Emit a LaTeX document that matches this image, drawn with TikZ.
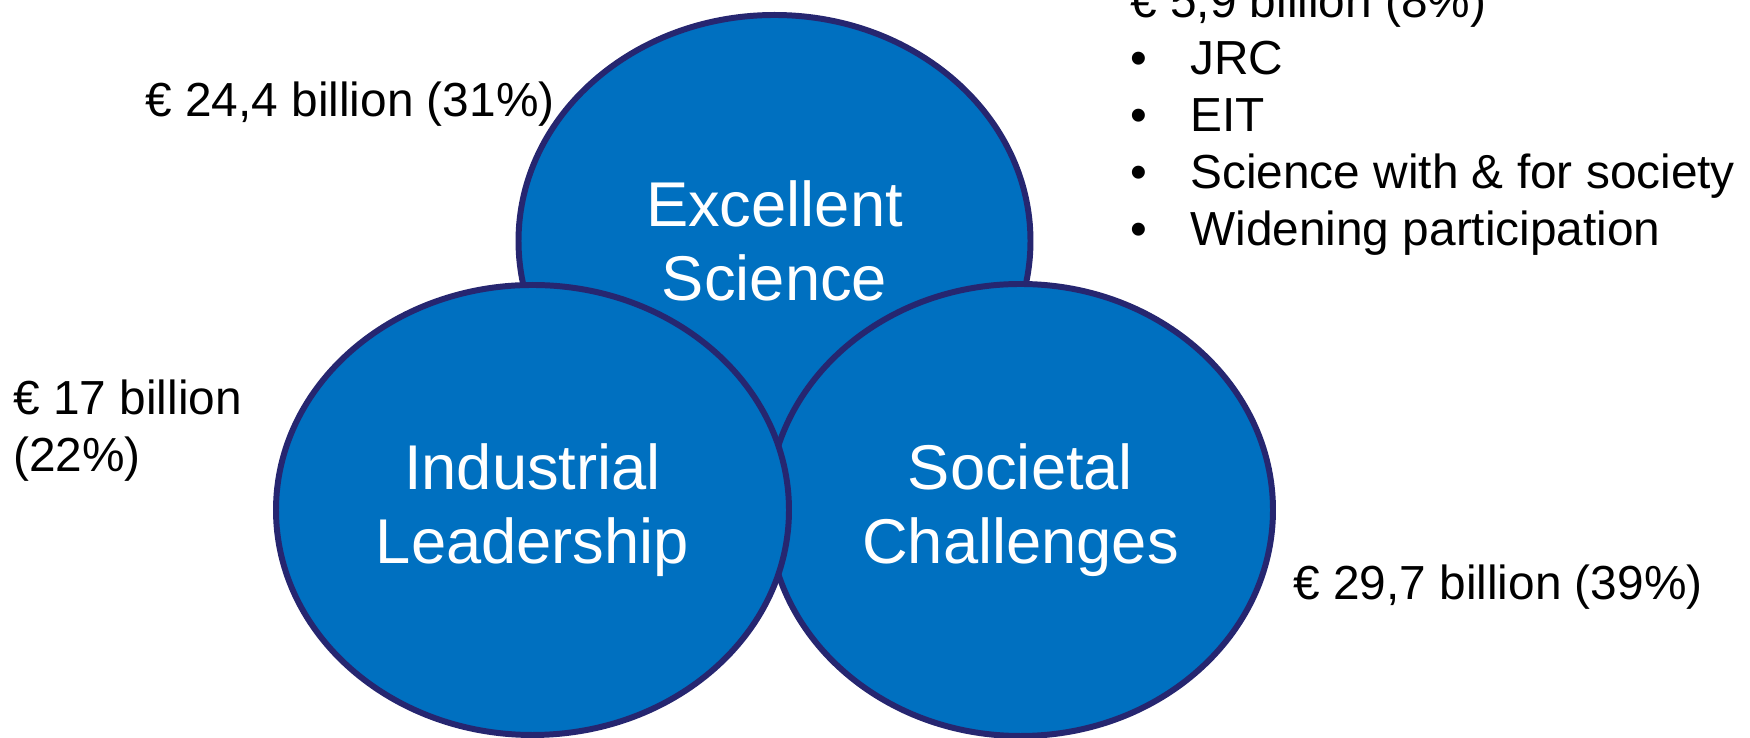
\documentclass[tikz,border=0pt]{standalone}
\usepackage{fontspec}
\setmainfont{Liberation Sans}
\usetikzlibrary{shapes.geometric}
\definecolor{pillarblue}{RGB}{0,112,192}
\definecolor{pillarline}{RGB}{38,38,112}

\begin{document}
\begin{tikzpicture}[
	pillar/.style={ellipse, draw=pillarline, fill=pillarblue, line width=3.4pt, inner sep=0pt, text=white, align=center, font=\fontsize{36}{42}\selectfont},
	budget/.style={anchor=base west, inner sep=0pt, font=\fontsize{27.2}{32.4}\selectfont}
	]
	%%%%% START %%%%%
	
	\useasboundingbox (0, 0) rectangle (35, 14.76);
	
	% the three pillars, back to front
	\node[pillar, minimum width=10.24cm, minimum height=9.04cm] (excellent) at (15.49, 9.94) {Excellent\\Science};
	\node[pillar, minimum width=10.1cm, minimum height=9.04cm] (societal) at (20.41, 4.56) {Societal\\Challenges};
	\node[pillar, minimum width=10.26cm, minimum height=9.0cm] (industrial) at (10.65, 4.56) {Industrial\\Leadership};
	
	% budgets
	\node[budget] (share31) at (2.9, 12.42) {€ 24,4 billion (31\%)};
	\node[budget] (share22) at (0.26, 6.46) {\begin{tabular}[t]{@{}l@{}}€ 17 billion\\(22\%)\end{tabular}};
	\node[budget] (share39) at (25.86, 2.76) {€ 29,7 billion (39\%)};
	\node[budget] (share8) at (22.6, 14.4) {\begin{tabular}[t]{@{}l@{}}€ 5,9 billion (8\%)\\
		\makebox[1.2cm][l]{\textbullet}JRC\\
		\makebox[1.2cm][l]{\textbullet}EIT\\
		\makebox[1.2cm][l]{\textbullet}Science with \& for society\\
		\makebox[1.2cm][l]{\textbullet}Widening participation\end{tabular}};
	
	%%%%% END %%%%%
\end{tikzpicture}
\end{document}
